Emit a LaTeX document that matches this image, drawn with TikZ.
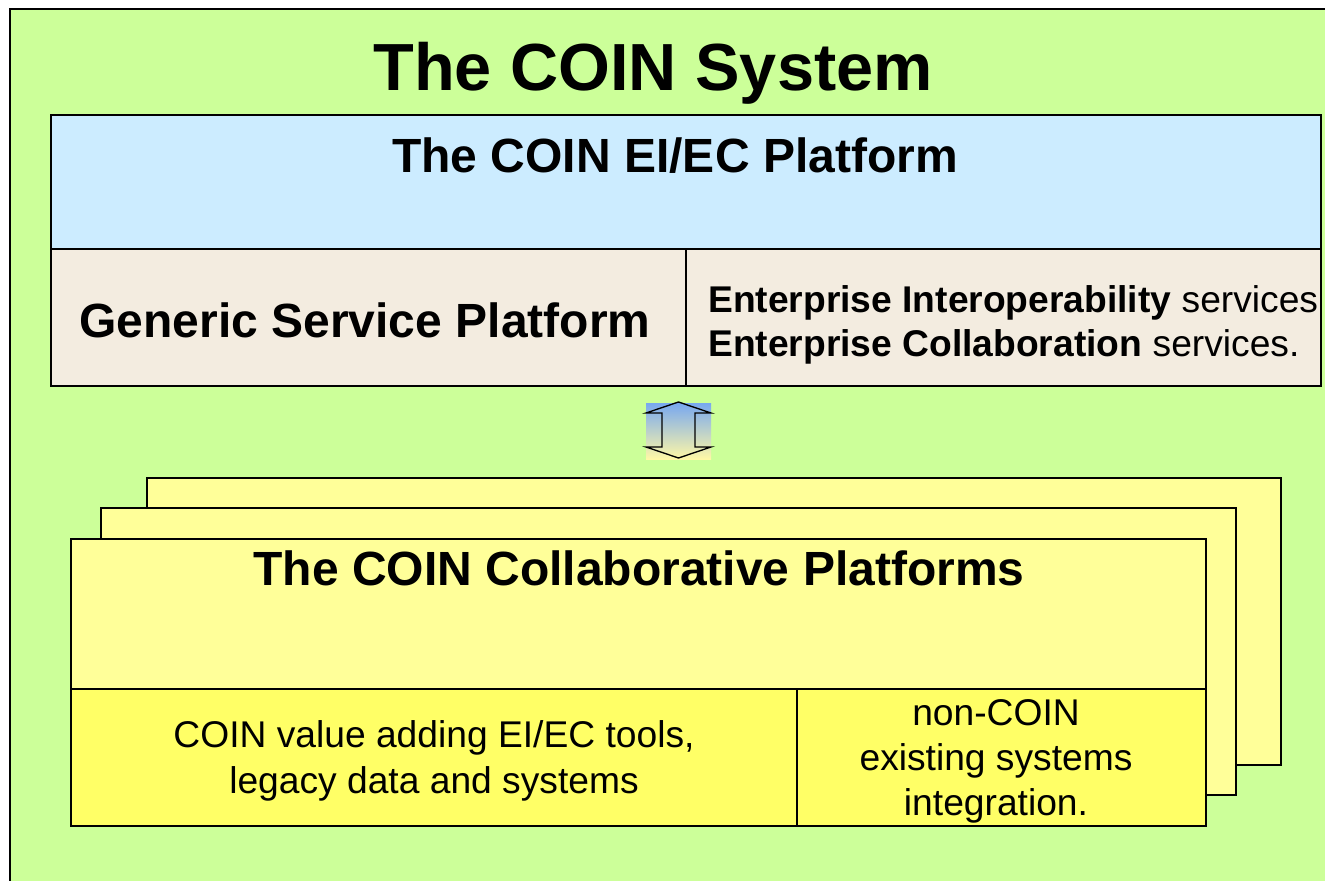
\documentclass[tikz,border=0pt]{standalone}
\usepackage{fontspec}
\setmainfont{Liberation Sans}

\definecolor{sysgreen}{HTML}{CCFF99}
\definecolor{eiblue}{HTML}{CCECFF}
\definecolor{gsbeige}{HTML}{F3ECE0}
\definecolor{cplight}{HTML}{FFFF99}
\definecolor{cpyellow}{HTML}{FFFF66}
\definecolor{linktop}{HTML}{78A8F0}
\definecolor{linkbot}{HTML}{FFF8A6}

\tikzset{
  panel/.style={draw=black, line width=1.5pt},
  systitle/.style={font=\bfseries\fontsize{50}{60}\selectfont, inner sep=0pt},
  head/.style={font=\bfseries\fontsize{36}{43}\selectfont, inner sep=0pt},
  body/.style={font=\fontsize{27.9}{33}\selectfont, inner sep=0pt}
}

\begin{document}
\begin{tikzpicture}[x=0.75pt, y=-0.75pt]

  \useasboundingbox (0,0) rectangle (1325,881);
  \clip (0,0) rectangle (1325,881);

  % the whole system
  \draw[panel, fill=sysgreen] (10,9) rectangle (1345,905);
  \node[systitle, anchor=base] (system) at (653,90) {The COIN System};

  % EI/EC platform
  \draw[panel, fill=eiblue] (51,115) rectangle (1321,249);
  \node[head, anchor=base] (eiec) at (675,172) {The COIN EI/EC Platform};

  \draw[panel, fill=gsbeige] (51,249) rectangle (1321,386);
  \draw[panel] (686,249) -- (686,386);
  \node[head, anchor=base] (gsp) at (365,337) {Generic Service Platform};
  \node[body, anchor=base west] (eis) at (708,312) {\textbf{Enterprise Interoperability} services};
  \node[body, anchor=base west] (ecs) at (708,356) {\textbf{Enterprise Collaboration} services.};

  % link between the platforms
  \shade[top color=linktop, bottom color=linkbot] (646,403) rectangle (711,459);
  \draw[line width=1pt, line join=miter] (678.5,402) -- (711,413) -- (695,413) -- (695,447)
    -- (711,447) -- (678.5,458) -- (646,447) -- (662,447) -- (662,413) -- (646,413) -- cycle;

  % collaborative platforms, back to front
  \draw[panel, fill=cplight] (147,478) rectangle (1281,765);
  \draw[panel, fill=cplight] (101,508) rectangle (1236,795);
  \draw[panel, fill=cplight] (71,539) rectangle (1206,826);
  \node[head, anchor=base] (collab) at (639,585) {The COIN Collaborative Platforms};

  \draw[panel, fill=cpyellow] (71,689) rectangle (1206,826);
  \draw[panel] (797,689) -- (797,826);
  \node[body, anchor=base] (tools1) at (434,747) {COIN value adding EI/EC tools,};
  \node[body, anchor=base] (tools2) at (434,793) {legacy data and systems};
  \node[body, anchor=base] (ext1) at (996,725) {non-COIN};
  \node[body, anchor=base] (ext2) at (996,770) {existing systems};
  \node[body, anchor=base] (ext3) at (996,815) {integration.};

\end{tikzpicture}
\end{document}
